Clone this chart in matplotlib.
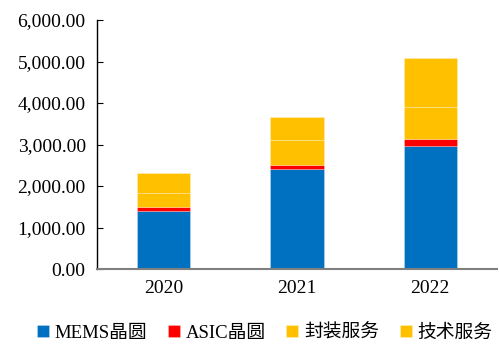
import numpy as np
import matplotlib.pyplot as plt
from matplotlib.ticker import FuncFormatter

plt.rcParams['font.family'] = ['Liberation Serif', 'Noto Sans CJK SC']

years = ['2020', '2021', '2022']
mems = [1405, 2402, 2957]
asic = [82, 104, 176]
packaging = [337, 602, 763]
tech_service = [482, 547, 1181]

labels = ['MEMS晶圆', 'ASIC晶圆', '封装服务', '技术服务']
colors = ['#0070C0', '#FF0000', '#FFC000', '#FFC000']
series = [mems, asic, packaging, tech_service]

fig = plt.figure(figsize=(4.99, 3.45), dpi=100)
ax = fig.add_axes([0.194, 0.220, 0.802, 0.722])

x = np.arange(len(years)) + 0.5
bottom = np.zeros(len(years))
for vals, lab, col in zip(series, labels, colors):
    ax.bar(x, vals, width=0.4, bottom=bottom, color=col, label=lab,
           edgecolor=(1, 1, 1, 0.35), linewidth=0.5)
    bottom += np.array(vals)

ax.set_xlim(0, 3)
ax.set_ylim(0, 6000)
ax.set_yticks(np.arange(0, 6001, 1000))
ax.yaxis.set_major_formatter(FuncFormatter(lambda v, p: f'{v:,.2f}'))
ax.set_xticks(x)
ax.set_xticklabels(years)

ax.spines['top'].set_visible(False)
ax.spines['right'].set_visible(False)
ax.spines['bottom'].set_color('#808080')
ax.spines['bottom'].set_linewidth(1.5)
ax.spines['left'].set_linewidth(1.0)
ax.tick_params(axis='y', direction='in', length=4, labelsize=14, pad=8)
ax.tick_params(axis='x', length=0, labelsize=14, pad=8)

fig.legend(loc='center', bbox_to_anchor=(0.53, 0.035), ncol=4, frameon=False,
           fontsize=13.5, handlelength=0.65, handleheight=0.65, handletextpad=0.3,
           columnspacing=1.1)

fig.savefig('out.png', dpi=100)
